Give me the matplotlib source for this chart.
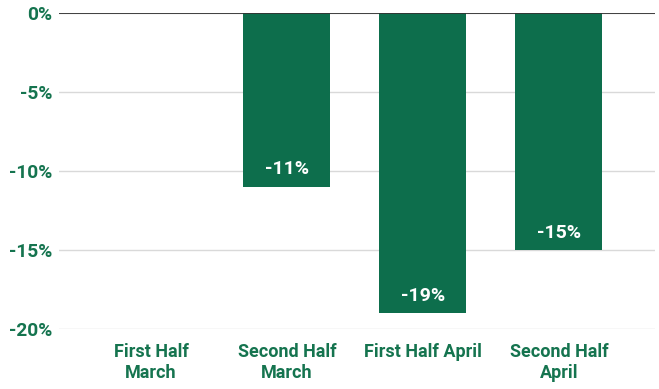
import matplotlib.pyplot as plt

categorias = ["First Half\nMarch", "Second Half\nMarch", "First Half April", "Second Half\nApril"]
valores = [0, -11, -19, -15]
etiquetas = ["", "-11%", "-19%", "-15%"]
ticks = [0, -5, -10, -15, -20]
ticks_txt = ["0%", "-5%", "-10%", "-15%", "-20%"]

verde = "#0d6e4c"
verde_txt = "#15744f"

plt.rcParams['font.family'] = ['Roboto', 'DejaVu Sans']

fig = plt.figure(figsize=(6.59, 3.89), dpi=100)
ax = fig.add_axes([59/659, 1 - 329/389, (655 - 59)/659, (329 - 13)/389])

x = list(range(len(categorias)))
ax.bar(x, valores, width=0.64, color=verde, zorder=3)

# etiquetas dentro de las barras, cerca del extremo
for xi, v, t in zip(x, valores, etiquetas):
    if t:
        ax.text(xi, v + 1.1, t, ha='center', va='center', color='white',
                fontsize=14, fontweight='bold', zorder=4)

ax.set_xlim(-0.676, 3.706)
ax.set_ylim(-20, 0)
ax.set_yticks(ticks)
ax.set_yticklabels(ticks_txt)
ax.set_xticks(x)
ax.set_xticklabels(categorias, linespacing=1.25)

for lab in ax.get_yticklabels():
    lab.set_color(verde_txt)
    lab.set_fontweight('bold')
    lab.set_fontsize(13.8)
for lab in ax.get_xticklabels():
    lab.set_color(verde_txt)
    lab.set_fontweight('bold')
    lab.set_fontsize(13)

ax.tick_params(axis='both', length=0)
ax.tick_params(axis='y', pad=5)
ax.tick_params(axis='x', pad=10)

ax.grid(axis='y', color='#d9d9d9', linewidth=1, zorder=0)
ax.axhline(0, color='#333333', linewidth=1.3, zorder=5)
for s in ax.spines.values():
    s.set_visible(False)

fig.savefig("out.png", dpi=100)
